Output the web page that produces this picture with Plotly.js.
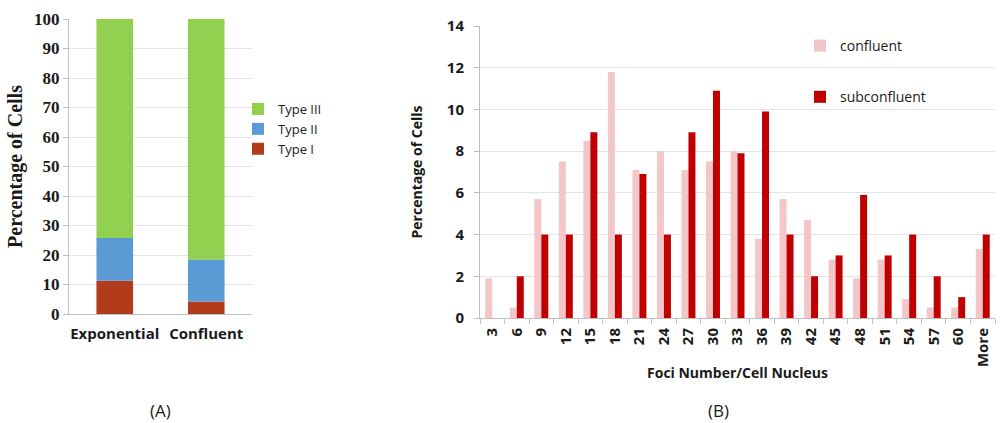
<!DOCTYPE html>
<html>
<head>
<meta charset="utf-8">
<script src="https://cdn.plot.ly/plotly-3.0.1.min.js"></script>
<style>
  html, body { margin: 0; padding: 0; background: #ffffff; }
  #chart { width: 1008px; height: 423px; }
</style>
</head>
<body>
<div id="chart"></div>
<script>
// (A) focus type distribution by growth state
const growthStates = ['Exponential', 'Confluent'];
const typeI = [11.3, 4.2];
const typeII = [14.5, 14.3];
const typeIII = [74.2, 81.5];

// (B) foci number per nucleus histogram
const fociBins = ['3', '6', '9', '12', '15', '18', '21', '24', '27', '30', '33',
                  '36', '39', '42', '45', '48', '51', '54', '57', '60', 'More'];
const confluent = [1.9, 0.5, 5.7, 7.5, 8.5, 11.8, 7.1, 8.0, 7.1, 7.5, 8.0,
                   3.8, 5.7, 4.7, 2.8, 1.9, 2.8, 0.9, 0.5, 0.5, 3.3];
const subconfluent = [0, 2.0, 4.0, 4.0, 8.9, 4.0, 6.9, 4.0, 8.9, 10.9, 7.9,
                      9.9, 4.0, 2.0, 3.0, 5.9, 3.0, 4.0, 2.0, 1.0, 4.0];

// stacking bases for panel A
const baseII = typeI.slice();
const baseIII = typeI.map((v, i) => v + typeII[i]);

const sans = 'Open Sans, Arial, sans-serif';
const serif = 'Liberation Serif, Times New Roman, serif';
const gridCol = '#e4e4e4';
const axisCol = '#bfbfbf';

const stackCommon = {
  type: 'bar', xaxis: 'x', yaxis: 'y', legend: 'legend',
  width: 0.4, offset: -0.2, hoverinfo: 'skip'
};

const traces = [
  Object.assign({}, stackCommon, {
    name: 'Type I', x: growthStates, y: typeI,
    marker: { color: '#B13B1B' }
  }),
  Object.assign({}, stackCommon, {
    name: 'Type II', x: growthStates, y: typeII, base: baseII,
    marker: { color: '#5B9BD5' }
  }),
  Object.assign({}, stackCommon, {
    name: 'Type III', x: growthStates, y: typeIII, base: baseIII,
    marker: { color: '#92D050' }
  }),
  {
    type: 'bar', name: 'confluent', x: fociBins, y: confluent,
    xaxis: 'x2', yaxis: 'y2', legend: 'legend2', legendgroup: 'c',
    marker: { color: '#F5C6C8' }, hoverinfo: 'skip'
  },
  {
    type: 'bar', name: 'subconfluent', x: fociBins, y: subconfluent,
    xaxis: 'x2', yaxis: 'y2', legend: 'legend2', legendgroup: 's',
    marker: { color: '#C00000' }, hoverinfo: 'skip'
  }
];

const layout = {
  width: 1008, height: 423,
  margin: { l: 0, r: 0, t: 0, b: 0 },
  paper_bgcolor: '#ffffff', plot_bgcolor: '#ffffff',
  barmode: 'group', bargap: 0.43, bargroupgap: 0,
  showlegend: true,
  xaxis: {
    domain: [69 / 1008, 252 / 1008], anchor: 'y',
    type: 'category', range: [-0.5, 1.5],
    showline: true, linecolor: axisCol, linewidth: 1,
    ticks: '', showgrid: false, zeroline: false, ticklabelstandoff: 6,
    tickfont: { family: sans, size: 15, color: '#1a1a1a', weight: 'bold' }
  },
  yaxis: {
    domain: [(423 - 314) / 423, (423 - 19) / 423], anchor: 'x',
    range: [0, 100], dtick: 10,
    showline: true, linecolor: axisCol, linewidth: 1,
    ticks: 'outside', ticklen: 5, tickcolor: axisCol,
    showgrid: true, gridcolor: gridCol, zeroline: false,
    tickfont: { family: serif, size: 17, color: '#1a1a1a', weight: 'bold' },
    title: { text: 'Percentage of Cells', standoff: 6,
             font: { family: serif, size: 20, color: '#1a1a1a', weight: 'bold' } }
  },
  xaxis2: {
    domain: [480 / 1008, 995 / 1008], anchor: 'y2',
    type: 'category', range: [-0.5, 20.5],
    showline: true, linecolor: axisCol, linewidth: 1,
    ticks: 'outside', tickson: 'boundaries', ticklen: 5, tickcolor: axisCol,
    tickangle: -90, showgrid: false, zeroline: false, ticklabelstandoff: 3,
    tickfont: { family: sans, size: 15, color: '#1a1a1a', weight: 'bold' },
    title: { text: 'Foci Number/Cell Nucleus', standoff: 2,
             font: { family: sans, size: 14, color: '#1a1a1a', weight: 'bold' } }
  },
  yaxis2: {
    domain: [(423 - 318) / 423, (423 - 26) / 423], anchor: 'x2',
    range: [0, 14], dtick: 2,
    showline: true, linecolor: axisCol, linewidth: 1,
    ticks: 'outside', ticklen: 5, tickcolor: axisCol,
    showgrid: true, gridcolor: gridCol, zeroline: false, ticklabelstandoff: 7,
    tickfont: { family: sans, size: 15, color: '#1a1a1a', weight: 'bold' },
    title: { text: 'Percentage of Cells', standoff: 20,
             font: { family: sans, size: 14, color: '#1a1a1a', weight: 'bold' } }
  },
  legend: {
    x: 238 / 1008, xanchor: 'left', y: (423 - 129) / 423, yanchor: 'middle',
    traceorder: 'reversed', bgcolor: 'rgba(0,0,0,0)',
    font: { family: sans, size: 13, color: '#1a1a1a' },
    itemclick: false, itemdoubleclick: false
  },
  legend2: {
    x: 800 / 1008, xanchor: 'left', y: (423 - 30) / 423, yanchor: 'top',
    traceorder: 'grouped', tracegroupgap: 30, bgcolor: 'rgba(0,0,0,0)',
    font: { family: sans, size: 14, color: '#1a1a1a' },
    itemclick: false, itemdoubleclick: false
  },
  annotations: [
    { text: '(A)', x: 160 / 1008, y: (423 - 410) / 423, xref: 'paper', yref: 'paper',
      xanchor: 'center', yanchor: 'middle',
      showarrow: false, font: { family: sans, size: 17, color: '#1a1a1a' } },
    { text: '(B)', x: 718 / 1008, y: (423 - 410) / 423, xref: 'paper', yref: 'paper',
      xanchor: 'center', yanchor: 'middle',
      showarrow: false, font: { family: sans, size: 17, color: '#1a1a1a' } }
  ]
};

Plotly.newPlot('chart', traces, layout, { staticPlot: true, displayModeBar: false });
</script>
</body>
</html>
